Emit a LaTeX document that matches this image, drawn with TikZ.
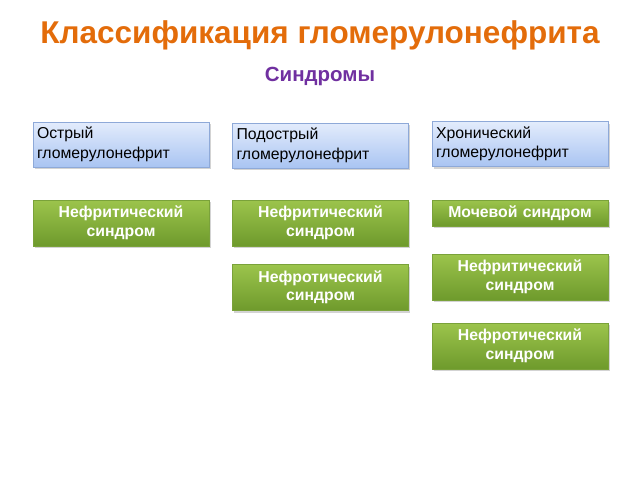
\documentclass[tikz,border=0pt]{standalone}
\usepackage{fontspec}
\setmainfont{Liberation Sans}
\usetikzlibrary{shadows}
\definecolor{ttl}{HTML}{E36C0A}
\definecolor{sub}{HTML}{7030A0}
\definecolor{bluetop}{HTML}{E3ECFC}
\definecolor{bluebot}{HTML}{A9C4F2}
\definecolor{blueedge}{HTML}{8EA9D8}
\definecolor{greentop}{HTML}{9CC44C}
\definecolor{greenbot}{HTML}{6E9A2C}
\definecolor{greenedge}{HTML}{7AA23A}
\tikzset{
  bluebox/.style={draw=blueedge, line width=0.8pt, top color=bluetop, bottom color=bluebot,
    minimum width=176pt, minimum height=45pt, text width=168pt, align=left,
    inner sep=4pt, font=\fontsize{15.8}{19.5}\selectfont,
    drop shadow={shadow xshift=1.5pt, shadow yshift=-2pt, opacity=0.35}},
  greenbox/.style={draw=greenedge, line width=0.6pt, top color=greentop, bottom color=greenbot,
    minimum width=176pt, minimum height=46pt, text width=172pt, align=center,
    inner sep=2pt, text=white, font=\bfseries\fontsize{15.8}{18.5}\selectfont,
    drop shadow={shadow xshift=1.5pt, shadow yshift=-2pt, opacity=0.35}},
}
\begin{document}
\begin{tikzpicture}[x=1pt,y=-1pt]
\useasboundingbox (0,0) rectangle (640,480);
\node[text=ttl, font=\bfseries\fontsize{31.5}{34}\selectfont] (title) at (320,35) {Классификация гломерулонефрита};
\node[text=sub, font=\bfseries\fontsize{20.5}{23}\selectfont] (subtitle) at (320,76) {Синдромы};

\node[bluebox] (b1) at (121,144.5) {Острый\\гломерулонефрит};
\node[bluebox] (b2) at (320.5,145.5) {Подострый\\гломерулонефрит};
\node[bluebox] (b3) at (520,144) {Хронический\\гломерулонефрит};

\node[greenbox] (g1) at (121,223) {Нефритический\\синдром};
\node[greenbox] (g2) at (320.5,223) {Нефритический\\синдром};
\node[greenbox] (g3) at (320.5,287.5) {Нефротический\\синдром};
\node[greenbox, minimum height=26pt] (g4) at (520,213) {Мочевой синдром};
\node[greenbox] (g5) at (520,277) {Нефритический\\синдром};
\node[greenbox] (g6) at (520,346) {Нефротический\\синдром};
\end{tikzpicture}
\end{document}
